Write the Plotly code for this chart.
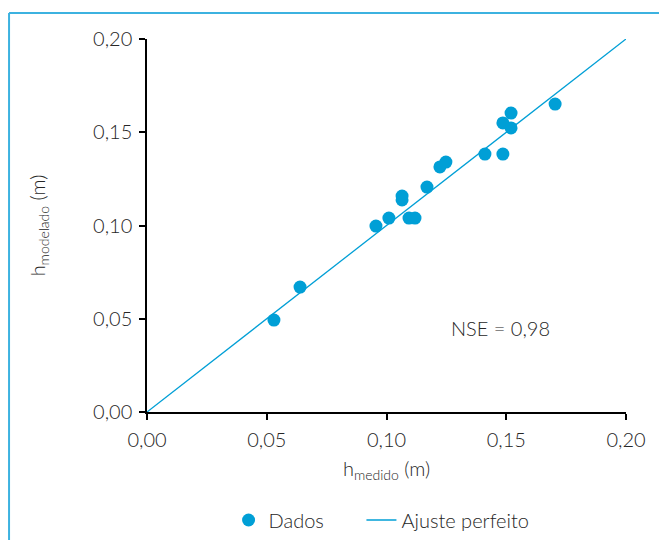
import plotly.graph_objects as go

# Measured vs modelled water depth (m)
h_medido = [0.0530, 0.0639, 0.0956, 0.1010, 0.1065, 0.1065, 0.1094, 0.1119, 0.1169,
            0.1223, 0.1248, 0.1411, 0.1486, 0.1486, 0.1520, 0.1520, 0.1704]
h_modelado = [0.0493, 0.0670, 0.0997, 0.1040, 0.1158, 0.1137, 0.1040, 0.1040, 0.1206,
              0.1314, 0.1340, 0.1383, 0.1383, 0.1550, 0.1603, 0.1523, 0.1651]
ajuste = [0.0, 0.20]
nse_text = "NSE = 0,98"
tick_vals = [0.0, 0.05, 0.10, 0.15, 0.20]

blue = "#009fd6"
font_family = "Lato, 'Open Sans', sans-serif"
text_color = "#262626"
base_font = dict(family=font_family, size=20, color=text_color, weight=300)

pad = "\u00a0" * 6  # extra room between the two legend entries

fig = go.Figure()
fig.add_trace(go.Scatter(
    x=h_medido, y=h_modelado, mode="markers", name="Dados" + pad,
    marker=dict(color=blue, size=13, line=dict(width=0)),
))
fig.add_trace(go.Scatter(
    x=ajuste, y=ajuste, mode="lines", name="Ajuste perfeito",
    line=dict(color=blue, width=1.3),
))

axis_common = dict(
    range=[0, 0.2], tickvals=tick_vals, tickformat=".2f",
    showgrid=False, zeroline=False, showline=True, linecolor="black", linewidth=1.5,
    ticks="outside", ticklen=6, tickwidth=1.5, tickcolor="black",
    tickfont=base_font, automargin=False, ticklabelstandoff=3,
)

fig.update_xaxes(**axis_common,
                 title=dict(text="h<sub>medido</sub> (m)", standoff=12, font=base_font))
fig.update_yaxes(**axis_common,
                 title=dict(text="h<sub>modelado</sub> (m)", standoff=42, font=base_font))

fig.add_annotation(x=0.1474, y=0.045, xref="x", yref="y", text=nse_text,
                   showarrow=False, font=base_font)

# open frame around the figure (top and left edges)
frame = "#3cb2e0"
fig.add_shape(type="line", xref="paper", yref="paper", x0=-0.288, x1=1.2, y0=1.0697, y1=1.0697,
              line=dict(color=frame, width=2))
fig.add_shape(type="line", xref="paper", yref="paper", x0=-0.288, x1=-0.288, y0=1.0697, y1=-0.5,
              line=dict(color=frame, width=2))

fig.update_layout(
    width=659, height=540,
    margin=dict(l=147, r=33, t=39, b=128, autoexpand=False),
    paper_bgcolor="white", plot_bgcolor="white",
    separators=",.",
    showlegend=True,
    legend=dict(orientation="h", xref="container", yref="container",
                x=0.579, xanchor="center", y=0.037, yanchor="middle",
                font=base_font, itemwidth=30, tracegroupgap=0),
    font=base_font,
)

fig.write_html("out.html")
